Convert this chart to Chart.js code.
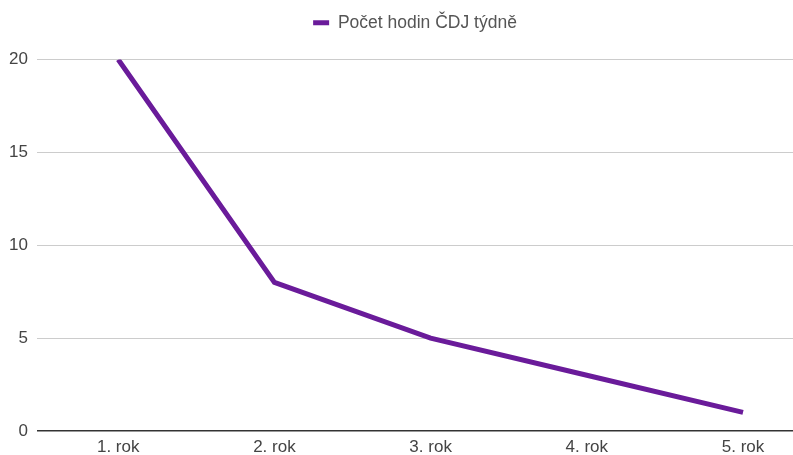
<!DOCTYPE html>
<html>
<head>
<meta charset="utf-8">
<script src="https://cdn.jsdelivr.net/npm/chart.js@4/dist/chart.umd.min.js"></script>
<style>
  html, body { margin: 0; padding: 0; background: #fff; }
  #wrap { width: 793px; height: 455px; position: relative; }
</style>
</head>
<body>
<div id="wrap"><canvas id="chart"></canvas></div>
<script>
  // data
  const categories = ["1. rok", "2. rok", "3. rok", "4. rok", "5. rok"];
  const hours = [20, 8, 5, 3, 1];
  const seriesName = "Počet hodin ČDJ týdně";
  const yTicks = [0, 5, 10, 15, 20];

  const purple = '#6a1b9a';
  const FONT = 'Liberation Sans, Arial, sans-serif';

  const points = categories.map((c, i) => ({ x: i + 1, y: hours[i] }));

  // push the plot down a bit below the legend
  const legendGap = {
    id: 'legendGap',
    beforeInit(chart) {
      const fit = chart.legend.fit;
      chart.legend.fit = function() {
        fit.bind(chart.legend)();
        this.height += 18;
      };
    }
  };

  new Chart(document.getElementById('chart'), {
    type: 'line',
    data: {
      datasets: [{
        label: seriesName,
        data: points,
        borderColor: purple,
        backgroundColor: purple,
        borderWidth: 5,
        pointRadius: 0,
        tension: 0,
        fill: false
      }]
    },
    options: {
      responsive: true,
      maintainAspectRatio: false,
      animation: false,
      layout: { padding: { top: 3 } },
      plugins: {
        legend: {
          position: 'top',
          fullSize: false,
          labels: {
            usePointStyle: true,
            pointStyle: 'line',
            pointStyleWidth: 16,
            padding: 11,
            color: '#555',
            font: { family: FONT, size: 17.5 }
          }
        },
        tooltip: { enabled: false }
      },
      scales: {
        x: {
          type: 'linear',
          min: 0.48,
          max: 5.32,
          afterBuildTicks: (s) => { s.ticks = categories.map((_, i) => ({ value: i + 1 })); },
          afterFit: (s) => { s.height = 24; },
          grid: { display: false, drawTicks: false },
          border: { display: false },
          ticks: {
            padding: 6,
            color: '#444',
            font: { family: FONT, size: 17 },
            callback: (v) => categories[v - 1] || ''
          }
        },
        y: {
          min: 0,
          max: 20,
          afterBuildTicks: (s) => { s.ticks = yTicks.map(v => ({ value: v })); },
          afterFit: (s) => { s.width = 37; },
          border: { display: false },
          grid: {
            drawTicks: false,
            color: (c) => c.tick && c.tick.value === 0 ? '#333' : '#ccc',
            lineWidth: (c) => c.tick && c.tick.value === 0 ? 1.5 : 1
          },
          ticks: {
            padding: 9,
            color: '#444',
            font: { family: FONT, size: 17 }
          }
        }
      }
    },
    plugins: [legendGap]
  });
</script>
</body>
</html>
